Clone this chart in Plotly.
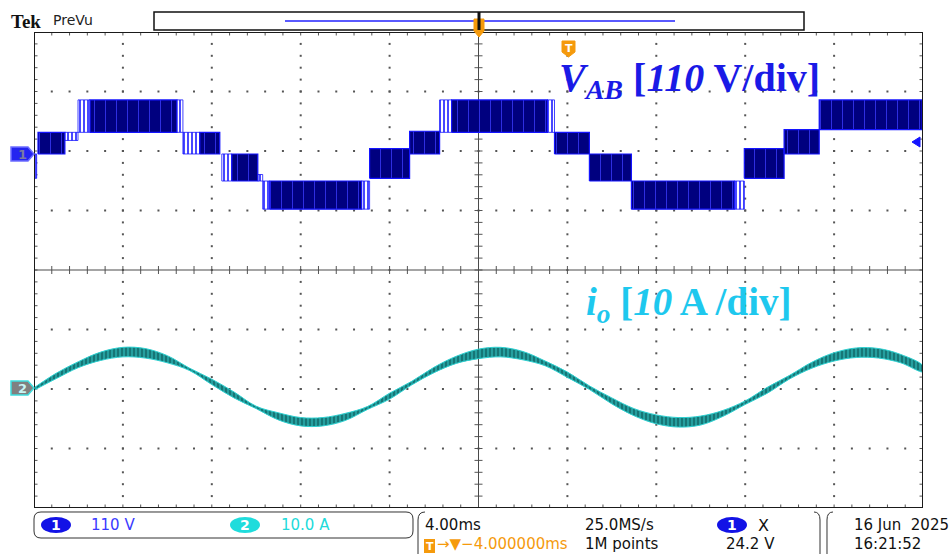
import plotly.graph_objects as go

# ---------------- acquisition settings ----------------
T_LEFT, T_RIGHT = -24.0, 16.0     # ms relative to trigger (4 ms/div, 10 div)
MS_PER_DIV = 4.0
CH1_SCALE = 110.0                 # V/div
CH2_SCALE = 10.0                  # A/div
CH1_POS = 1.95                    # div above centre
CH2_POS = -2.0                    # div below centre

# ---------------- channel 1 : V_AB (multilevel PWM bands) ----------------
# each band: start (ms), end (ms), low level (V), high level (V), dense switching?
band_start = [-23.98, -23.82, -22.61, -22.02, -21.48, -17.57, -17.30, -16.54, -15.55, -15.10,
              -13.93, -13.71, -13.39, -9.26, -8.90, -7.10, -5.75, -5.21, -0.90, -0.58,
              0.99, 2.88, 7.51, 7.96, 9.75, 11.33]
band_end = [-23.88, -22.61, -22.02, -21.48, -17.57, -17.30, -16.54, -15.64, -15.10, -13.93,
            -13.71, -13.39, -9.26, -8.90, -7.10, -5.75, -5.21, -0.90, -0.58, 0.99,
            2.88, 7.51, 7.96, 9.75, 11.33, 15.96]
band_low = [-45, 0, 25, 40, 40, 40, 0, 0, -50, -50,
            -50, -102, -102, -102, -45, 0, 40, 40, 40, 0,
            -50, -102, -102, -45, 0, 45]
band_high = [0, 40, 40, 100, 100, 100, 40, 40, 0, 0,
             -38, -50, -50, -50, 10, 42, 100, 100, 100, 40,
             0, -50, -50, 10, 45, 100]
band_dense = [0, 1, 0, 0, 1, 0, 0, 1, 0, 1,
              0, 0, 1, 0, 1, 1, 0, 1, 0, 1,
              1, 1, 0, 1, 1, 1]

# ---------------- channel 2 : i_o ----------------
io_time = [-24, -23, -22, -21, -20, -19, -18, -17, -16, -15, -14, -13, -12, -11, -10, -9, -8,
           -7, -6, -5, -4, -3, -2, -1, 0, 1, 2, 3, 4, 5, 6, 7, 8, 9, 10, 11, 12, 13, 14, 15, 16]
io_amps = [0.0, 2.2, 4.1, 5.5, 6.2, 6.0, 5.0, 3.3, 1.2, -1.0, -3.1, -4.6, -5.5, -5.5, -4.7, -3.2, -1.2,
           1.0, 3.2, 4.9, 5.9, 6.2, 5.6, 4.3, 2.4, 0.2, -2.0, -3.9, -5.1, -5.6, -5.3, -4.1, -2.3,
           -0.2, 2.0, 4.0, 5.4, 6.1, 6.0, 5.1, 3.4]
io_ripple = [0.2, 0.45, 0.5, 0.7, 0.8, 0.8, 0.6, 0.2, 0.45, 0.5, 0.2, 0.6, 0.7, 0.7, 0.6, 0.25, 0.5,
             0.3, 0.45, 0.6, 0.8, 0.8, 0.7, 0.4, 0.45, 0.3, 0.5, 0.6, 0.75, 0.8, 0.75, 0.5, 0.3,
             0.5, 0.3, 0.5, 0.7, 0.8, 0.8, 0.7, 0.5]

# ---------------- screen geometry (pixels) ----------------
W, H = 951, 554
GX0, GX1, GY0, GY1 = 34, 923, 32, 508


def px(x):
    return (x - GX0) / (GX1 - GX0)


def py(y):
    return (GY1 - y) / (GY1 - GY0)


def pt(x, y):
    return f"{px(x):.5f},{py(y):.5f}"


def rounded_box(x0, y0, x1, y1, r):
    return (f"M {pt(x0 + r, y0)} L {pt(x1 - r, y0)} Q {pt(x1, y0)} {pt(x1, y0 + r)} "
            f"L {pt(x1, y1 - r)} Q {pt(x1, y1)} {pt(x1 - r, y1)} L {pt(x0 + r, y1)} "
            f"Q {pt(x0, y1)} {pt(x0, y1 - r)} L {pt(x0, y0 + r)} Q {pt(x0, y0)} {pt(x0 + r, y0)} Z")


fig = go.Figure()

# ---------------- graticule ----------------
XS = (GX1 - GX0) / (T_RIGHT - T_LEFT)   # px per ms
YS = (GY1 - GY0) / 8.0                  # px per div
T_MID = (T_LEFT + T_RIGHT) / 2

dot_x, dot_y = [], []
for k in range(1, 10):
    xm = T_LEFT + k * MS_PER_DIV
    if k == 5:
        continue
    for j in range(1, 40):
        dot_x.append(xm)
        dot_y.append(-4 + j * 0.2)
for yk in [-3, -2, -1, 1, 2, 3]:
    for j in range(1, 50):
        dot_x.append(T_LEFT + j * MS_PER_DIV / 5)
        dot_y.append(yk)
fig.add_trace(go.Scatter(x=dot_x, y=dot_y, mode="markers",
                         marker=dict(size=2, color="#555555", symbol="square"),
                         hoverinfo="skip", showlegend=False))

tx, ty = [], []
tl_y = 4.0 / YS
tl_x = 4.0 / XS
edge_y = 3.5 / YS
edge_x = 3.5 / XS
for j in range(1, 50):
    x = T_LEFT + j * MS_PER_DIV / 5
    tx += [x, x, None, x, x, None, x, x, None]
    ty += [-tl_y, tl_y, None, 4, 4 - edge_y, None, -4, -4 + edge_y, None]
for j in range(1, 40):
    y = -4 + j * 0.2
    tx += [T_MID - tl_x, T_MID + tl_x, None, T_LEFT, T_LEFT + edge_x, None,
           T_RIGHT, T_RIGHT - edge_x, None]
    ty += [y, y, None, y, y, None, y, y, None]
fig.add_trace(go.Scatter(x=tx, y=ty, mode="lines", line=dict(color="#555555", width=1),
                         hoverinfo="skip", showlegend=False))

fig.add_trace(go.Scatter(x=[T_LEFT, T_RIGHT, None, T_MID, T_MID], y=[0, 0, None, -4, 4],
                         mode="lines", line=dict(color="#4a4a4a", width=1),
                         hoverinfo="skip", showlegend=False))

# ---------------- channel 1 trace ----------------
def ch1(v):
    return v / CH1_SCALE + CH1_POS


for dense in (0, 1):
    bx, by = [], []
    for s, e, lo, hi, d in zip(band_start, band_end, band_low, band_high, band_dense):
        if d != dense:
            continue
        bx += [s, e, e, s, s, None]
        by += [ch1(lo), ch1(lo), ch1(hi), ch1(hi), ch1(lo), None]
    if dense:
        pattern = dict(shape="|", bgcolor="#00007f", fgcolor="#3c3cff", size=11,
                       solidity=0.07, fillmode="replace")
    else:
        pattern = dict(shape="|", bgcolor="white", fgcolor="#1a1aff", size=4,
                       solidity=0.4, fillmode="replace")
    fig.add_trace(go.Scatter(
        x=bx, y=by, mode="lines", fill="toself", fillpattern=pattern,
        line=dict(color="#1414ff", width=1.2 if dense else 0.8),
        hoverinfo="skip", showlegend=False))

# ---------------- channel 2 trace ----------------
def ch2(i):
    return i / CH2_SCALE + CH2_POS


fig.add_trace(go.Scatter(x=io_time, y=[ch2(a) for a in io_amps], mode="lines",
                         line=dict(color="#2ad2d2", width=2, shape="spline"),
                         hoverinfo="skip", showlegend=False))
upper = [ch2(a + r) for a, r in zip(io_amps, io_ripple)]
lower = [ch2(a - r) for a, r in zip(io_amps, io_ripple)]
fig.add_trace(go.Scatter(x=io_time + io_time[::-1], y=upper + lower[::-1], mode="lines",
                         fill="toself",
                         fillpattern=dict(shape="|", bgcolor="#167676", fgcolor="#38d4d4",
                                          size=4, solidity=0.22, fillmode="replace"),
                         line=dict(color="#2cd0d0", width=1, shape="spline"),
                         hoverinfo="skip", showlegend=False))

# ---------------- shapes ----------------
shapes = [
    dict(type="rect", xref="x", yref="y", x0=T_LEFT, x1=T_RIGHT, y0=-4, y1=4,
         line=dict(color="#1a1a1a", width=2)),
    # record view bar
    dict(type="rect", xref="paper", yref="paper", x0=px(154), x1=px(804), y0=py(30), y1=py(12),
         line=dict(color="#111111", width=1.5), fillcolor="white"),
    dict(type="line", xref="paper", yref="paper", x0=px(285), x1=px(675), y0=py(21), y1=py(21),
         line=dict(color="#5a5aff", width=2)),
    # trigger position marker
    dict(type="path", xref="paper", yref="paper",
         path=f"M {pt(474, 19)} L {pt(484, 19)} L {pt(484, 31)} L {pt(479, 37)} L {pt(474, 31)} Z",
         fillcolor="#f59a0c", line=dict(color="#f59a0c", width=1)),
    dict(type="rect", xref="paper", yref="paper", x0=px(477.5), x1=px(480.5), y0=py(30), y1=py(12),
         fillcolor="#111111", line=dict(width=0)),
    # trigger level marker "T"
    dict(type="path", xref="paper", yref="paper",
         path=f"M {pt(562, 41)} L {pt(575, 41)} L {pt(575, 52)} L {pt(568.5, 57)} L {pt(562, 52)} Z",
         fillcolor="#f59a0c", line=dict(color="#f59a0c", width=1)),
    # channel ground markers
    dict(type="path", xref="paper", yref="paper",
         path=f"M {pt(11, 147)} L {pt(28, 147)} L {pt(34, 154)} L {pt(28, 161)} L {pt(11, 161)} Z",
         fillcolor="#2424f0", line=dict(color="#6e6eff", width=1.5)),
    dict(type="path", xref="paper", yref="paper",
         path=f"M {pt(11, 381)} L {pt(28, 381)} L {pt(34, 388)} L {pt(28, 395)} L {pt(11, 395)} Z",
         fillcolor="#808080", line=dict(color="#3fdede", width=1.5)),
    # right-edge channel indicator
    dict(type="path", xref="paper", yref="paper",
         path=f"M {pt(912, 142)} L {pt(920, 137)} L {pt(920, 147)} Z",
         fillcolor="#1414ff", line=dict(color="#1414ff", width=1)),
    # status bar frames
    dict(type="path", xref="paper", yref="paper", path=rounded_box(34, 512, 413, 538, 7),
         line=dict(color="#333333", width=1)),
    dict(type="path", xref="paper", yref="paper",
         path=f"M {pt(425, 512)} Q {pt(418, 512)} {pt(418, 520)} L {pt(418, 554)}",
         line=dict(color="#333333", width=1)),
    dict(type="path", xref="paper", yref="paper",
         path=f"M {pt(814, 512)} Q {pt(820, 512)} {pt(820, 520)} L {pt(820, 554)}",
         line=dict(color="#333333", width=1)),
    dict(type="path", xref="paper", yref="paper",
         path=f"M {pt(833, 512)} Q {pt(827, 512)} {pt(827, 520)} L {pt(827, 554)}",
         line=dict(color="#333333", width=1)),
    # channel badges
    dict(type="circle", xref="paper", yref="paper", x0=px(41), x1=px(71), y0=py(533), y1=py(517),
         fillcolor="#1212e6", line=dict(width=0)),
    dict(type="circle", xref="paper", yref="paper", x0=px(230), x1=px(260), y0=py(533), y1=py(517),
         fillcolor="#1fdcdc", line=dict(width=0)),
    dict(type="circle", xref="paper", yref="paper", x0=px(717), x1=px(747), y0=py(533), y1=py(517),
         fillcolor="#1212e6", line=dict(width=0)),
    dict(type="rect", xref="paper", yref="paper", x0=px(424), x1=px(435), y0=py(553), y1=py(539),
         fillcolor="#f59a0c", line=dict(width=0)),
]

# ---------------- annotations ----------------
SANS = "DejaVu Sans"


def label(x, y, text, color="#111111", size=15, family=SANS, anchor="left"):
    return dict(xref="paper", yref="paper", x=px(x), y=py(y), text=text, showarrow=False,
                xanchor=anchor, yanchor="middle", borderpad=0,
                font=dict(family=family, size=size, color=color))


ROW2 = 544
annotations = [
    label(10, 21, "<b>Tek</b>", size=19, family="Liberation Serif"),
    label(52, 20, "PreVu", size=14, color="#222222"),
    label(568.5, 48, "<b>T</b>", size=11, color="white", anchor="center"),
    label(22, 154, "<b>1</b>", size=13, color="#7a7aa0", anchor="center"),
    label(22, 388, "<b>2</b>", size=13, color="#c8f4f4", anchor="center"),
    label(558, 80, "<b><i>V</i><sub><i>AB</i></sub> [<i>110</i> V/div]</b>", size=40,
          color="#1a1ae6", family="Liberation Serif"),
    label(585, 304, "<b><i>i</i><sub><i>o</i></sub> [<i>10</i> A /div]</b>", size=39,
          color="#1ec8ee", family="Liberation Serif"),
    label(56, 525, "<b>1</b>", size=14, color="white", anchor="center"),
    label(90, 525, "110 V", color="#3a3aff"),
    label(245, 525, "<b>2</b>", size=14, color="white", anchor="center"),
    label(280, 525, "10.0 A", color="#22dada"),
    label(424, 525, "4.00ms"),
    label(429.5, 546, "<b>T</b>", size=11, color="white", anchor="center"),
    label(436, ROW2, "→▼−4.000000ms", color="#f59a0c"),
    label(584, 525, "25.0MS/s"),
    label(584, ROW2, "1M points"),
    label(732, 525, "<b>1</b>", size=14, color="white", anchor="center"),
    label(757, 525, "X", size=16),
    label(725, ROW2, "24.2 V"),
    label(853, 525, "16 Jun  2025"),
    label(853, ROW2, "16:21:52"),
]

fig.update_layout(
    width=W, height=H,
    margin=dict(l=GX0, r=W - GX1, t=GY0, b=H - GY1, pad=0),
    paper_bgcolor="white", plot_bgcolor="white",
    xaxis=dict(range=[T_LEFT, T_RIGHT], showgrid=False, zeroline=False, showticklabels=False,
               ticks="", showline=False, fixedrange=True),
    yaxis=dict(range=[-4, 4], showgrid=False, zeroline=False, showticklabels=False,
               ticks="", showline=False, fixedrange=True),
    shapes=shapes, annotations=annotations, showlegend=False,
)

fig.write_html("out.html", config={"displayModeBar": False})
